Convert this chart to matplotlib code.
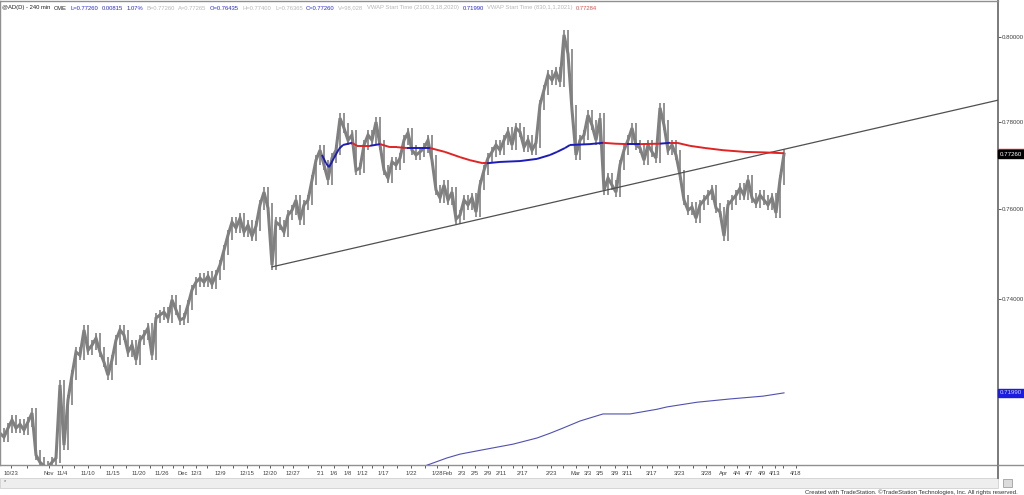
import numpy as np
import matplotlib
matplotlib.use('Agg')
import matplotlib.pyplot as plt
from matplotlib.collections import LineCollection
from matplotlib.ticker import FixedLocator, NullLocator, FuncFormatter
from matplotlib.patches import Rectangle
from matplotlib.lines import Line2D

plt.rcParams['font.family'] = ['Liberation Sans', 'DejaVu Sans']

# =============================================================================
# Data (AD 240 min bars, one value every ~4 bars)
# =============================================================================
close = [
    0.7110, 0.7102, 0.7121, 0.7138, 0.7121, 0.7129, 0.7117, 0.7134, 0.7153, 0.7064,
    0.7049, 0.7041, 0.7039, 0.7049, 0.7058, 0.7213, 0.7085, 0.7181, 0.7234, 0.7284,
    0.7277, 0.7332, 0.7288, 0.7299, 0.7314, 0.7284, 0.7262, 0.7234, 0.7267, 0.7310,
    0.7332, 0.7321, 0.7284, 0.7299, 0.7267, 0.7310, 0.7321, 0.7336, 0.7277, 0.7358,
    0.7365, 0.7371, 0.7358, 0.7398, 0.7376, 0.7354, 0.7358, 0.7387, 0.7420, 0.7437,
    0.7446, 0.7437, 0.7450, 0.7433, 0.7453, 0.7475, 0.7508, 0.7542, 0.7571, 0.7558,
    0.7580, 0.7549, 0.7564, 0.7540, 0.7562, 0.7610, 0.7639, 0.7603, 0.7475, 0.7571,
    0.7564, 0.7549, 0.7587, 0.7598, 0.7621, 0.7576, 0.7610, 0.7621, 0.7667, 0.7712,
    0.7735, 0.7701, 0.7667, 0.7717, 0.7735, 0.7809, 0.7786, 0.7758, 0.7770, 0.7689,
    0.7694, 0.7747, 0.7770, 0.7758, 0.7800, 0.7747, 0.7689, 0.7671, 0.7708, 0.7701,
    0.7717, 0.7758, 0.7775, 0.7735, 0.7724, 0.7731, 0.7740, 0.7758, 0.7712, 0.7644,
    0.7626, 0.7655, 0.7621, 0.7639, 0.7578, 0.7587, 0.7621, 0.7610, 0.7626, 0.7594,
    0.7655, 0.7689, 0.7717, 0.7731, 0.7747, 0.7735, 0.7758, 0.7777, 0.7747, 0.7786,
    0.7777, 0.7742, 0.7758, 0.7735, 0.7752, 0.7840, 0.7875, 0.7910, 0.7898, 0.7917,
    0.7894, 0.8005, 0.7960, 0.7828, 0.7724, 0.7758, 0.7770, 0.7816, 0.7793, 0.7758,
    0.7809, 0.7644, 0.7671, 0.7655, 0.7639, 0.7701, 0.7735, 0.7758, 0.7786, 0.7747,
    0.7740, 0.7712, 0.7747, 0.7731, 0.7717, 0.7833, 0.7793, 0.7735, 0.7747, 0.7724,
    0.7678, 0.7621, 0.7598, 0.7605, 0.7580, 0.7610, 0.7621, 0.7632, 0.7644, 0.7603,
    0.7594, 0.7540, 0.7610, 0.7621, 0.7632, 0.7648, 0.7632, 0.7667, 0.7626, 0.7614,
    0.7632, 0.7621, 0.7610, 0.7626, 0.7592, 0.7667, 0.7726,
]

# VWAP start 1/1/2021 (bar index, value)
vwap1_bar = [80.5, 81.5, 82.25, 83.5, 84.75, 85.75, 88, 89.25, 92.5, 95, 97.5, 99.25,
             101.75, 107.5, 111.25, 115, 117.5, 120.75, 121.75, 125, 130, 134.25,
             137.5, 139.25, 141.25, 142.5, 147.5, 150.75, 153.75, 156.75, 160, 165,
             167.5, 169.25, 172.5, 176.25, 180.75, 186.25, 190.75, 196]
vwap1_val = [0.7724, 0.7705, 0.7696, 0.7717, 0.7738, 0.7747, 0.7752, 0.7745, 0.7745,
             0.7749, 0.7742, 0.7742, 0.7740, 0.7740, 0.7731, 0.7719, 0.7712, 0.7705,
             0.7705, 0.7708, 0.7710, 0.7715, 0.7724, 0.7731, 0.7740, 0.7747, 0.7749,
             0.7752, 0.7750, 0.7749, 0.7749, 0.7750, 0.7752, 0.7752, 0.7745, 0.7740,
             0.7735, 0.7731, 0.7730, 0.7728]

# VWAP start 3/18/2020
vwap2_bar = [105.5, 111.75, 115, 120, 128.25, 134.25, 137.5, 140.75, 145, 150.75,
             157.5, 164.25, 166.75, 174.25, 182.5, 190.75, 196]
vwap2_val = [0.7039, 0.7058, 0.7066, 0.7074, 0.7087, 0.7100, 0.7110, 0.7121, 0.7136,
             0.7151, 0.7151, 0.7161, 0.7166, 0.7176, 0.7183, 0.7189, 0.7196]

# trendline from the 12/21 low
trend_bar = [68, 249.5]
trend_val = [0.7471, 0.7851]

yticks = [0.74, 0.76, 0.78, 0.80]

date_labels = ['10/23', 'Nov', '11/4', '11/10', '11/15', '11/20', '11/26', 'Dec', '12/3',
               '12/9', '12/15', '12/20', '12/27', "'21", '1/6', '1/8', '1/12', '1/17',
               '1/22', '1/28', 'Feb', '2/3', '2/5', '2/9', '2/11', '2/17', '2/23', 'Mar',
               '3/3', '3/5', '3/9', '3/11', '3/17', '3/23', '3/28', 'Apr', '4/4', '4/7',
               '4/9', '4/13', '4/18']
date_pos = [2.75, 12.25, 15.5, 22, 28.25, 34.75, 40.5, 45.75, 49, 55, 61.75, 67.5, 73.25,
            80.25, 83.5, 87, 90.5, 95.75, 102.75, 109.25, 112, 115.5, 118.75, 122, 125.25,
            130.5, 137.75, 144, 147, 150, 153.75, 156.75, 163, 169.75, 176.5, 181, 184.25,
            187.25, 190.5, 193.75, 199]
minor_pos = [6.75, 18.5, 25, 31.5, 37.5, 43.25, 51.75, 58.25, 64.75, 70.75, 77, 93, 99.25,
             106.25, 128.25, 134.25, 140.75, 160, 166.75, 173.25, 195.75]

header = [("@AD(D) - 240 min", '#202020'), ("CME", '#202020'),
          ("L=0.77260", '#2a2ad0'), ("0.00815", '#2a2ad0'), ("1.07%", '#2a2ad0'),
          ("B=0.77260", '#b8b8b8'), ("A=0.77265", '#b8b8b8'),
          ("O=0.76435", '#2a2ad0'), ("H=0.77400", '#b8b8b8'),
          ("L=0.76365", '#b8b8b8'), ("C=0.77260", '#2a2ad0'),
          ("V=98,028", '#b8b8b8'), ("VWAP Start Time (2100,3,18,2020)", '#b8b8b8'),
          ("0.71990", '#2a2ad0'), ("VWAP Start Time (830,1,1,2021)", '#b8b8b8'),
          ("0.77284", '#e05050')]

# =============================================================================
# Figure
# =============================================================================
W, H = 1024, 495
fig = plt.figure(figsize=(W/100, H/100), dpi=100)
ax = fig.add_axes([0, 1-465/H, 998/W, 464/H])
ax.set_yscale('log')
ax.set_xlim(0, 249.5)
ax.set_ylim(0.8*np.exp(-(465-37)/3360), 0.8*np.exp(36/3360))

# price bars (drawn as a dense bar/line mix)
c = np.array(close)
x = np.arange(len(c))
prev = np.concatenate([[c[0]], c[:-1]])
pad = 0.0011
ax.plot(x, c, color='#808080', lw=2.2, zorder=2, solid_joinstyle='miter')
ax.vlines(x, np.minimum(prev, c)-pad, np.maximum(prev, c)+pad, color='#808080', lw=1.2, zorder=2)

# trendline
ax.plot(trend_bar, trend_val, color='#505050', lw=0.9, zorder=3)

# vwap 1, blue when price above, red when below
segs, cols = [], []
for j in range(len(vwap1_bar)-1):
    segs.append([(vwap1_bar[j], vwap1_val[j]), (vwap1_bar[j+1], vwap1_val[j+1])])
    m = (x >= np.floor(vwap1_bar[j])) & (x <= np.ceil(vwap1_bar[j+1]))
    above = c[m].mean() >= (vwap1_val[j]+vwap1_val[j+1])/2
    cols.append('#1c1cb8' if (above or j < 6) else '#e02424')
ax.add_collection(LineCollection(segs, colors=cols, linewidths=1.4, zorder=4))

# vwap 2
ax.plot(vwap2_bar, vwap2_val, color='#5050b0', lw=0.8, zorder=4)

# axes style
for s in ax.spines.values():
    s.set_color('#909090')
    s.set_linewidth(1.0)
ax.spines['right'].set_color('#7a7a7a')
ax.spines['right'].set_linewidth(1.4)

ax.yaxis.tick_right()
ax.yaxis.set_major_locator(FixedLocator(yticks))
ax.yaxis.set_minor_locator(NullLocator())
ax.yaxis.set_major_formatter(FuncFormatter(lambda v, p: '%.5f' % v))
ax.tick_params(axis='y', direction='out', length=2.5, width=0.6, pad=0.5,
               labelsize=4.4, colors='#404040')

ax.set_xticks(date_pos)
ax.set_xticklabels(date_labels)
ax.set_xticks(minor_pos, minor=True)
ax.tick_params(axis='x', which='both', direction='out', length=2.5, width=0.6, pad=1.5,
               labelsize=4.2, colors='#404040')

# last value boxes
def box(val, txt, fc, tc):
    ax.annotate(txt, xy=(1.0, val), xycoords=('axes fraction', 'data'), xytext=(1.5, 0),
                textcoords='offset points', ha='left', va='center', fontsize=4.4, color=tc,
                bbox=dict(boxstyle='square,pad=0.3', fc=fc, ec=fc), annotation_clip=False)
box(0.77284, '0.77284', '#d02020', 'white')
box(close[-1], '0.77260', 'black', 'white')
box(vwap2_val[-1], '0.71990', '#1c1ce0', '#d0d0ff')

# header, laid out left to right
fig.canvas.draw()
r = fig.canvas.get_renderer()
hx = 2.0
for txt, col in header:
    t = fig.text(hx/W, 1-8/H, txt, fontsize=4.25, color=col, ha='left', va='center')
    hx = t.get_window_extent(r).x1 + 3.5

# bottom strip / footer
fig.add_artist(Line2D([998/W, 998/W], [1-465/H, 1-478/H], color='#7a7a7a', lw=1.4))
fig.add_artist(Line2D([998/W, 1], [1-465/H, 1-465/H], color='#909090', lw=1.0))
fig.add_artist(Rectangle((0, 1-488/H), 998/W, 10/H, fc='#eeeeee', ec='#d0d0d0', lw=0.6))
fig.add_artist(Rectangle((1003/W, 1-487/H), 9/W, 8/H, fc='#dcdcdc', ec='#a0a0a0', lw=0.6))
fig.text(4/W, 1-482/H, '*', fontsize=4, color='#606060', ha='left', va='center')
fig.text(1018/W, 1-492/H,
         'Created with TradeStation. \u00a9TradeStation Technologies, Inc. All rights reserved.',
         fontsize=4.3, color='#303030', ha='right', va='center')

fig.savefig('out.png', dpi=100)
